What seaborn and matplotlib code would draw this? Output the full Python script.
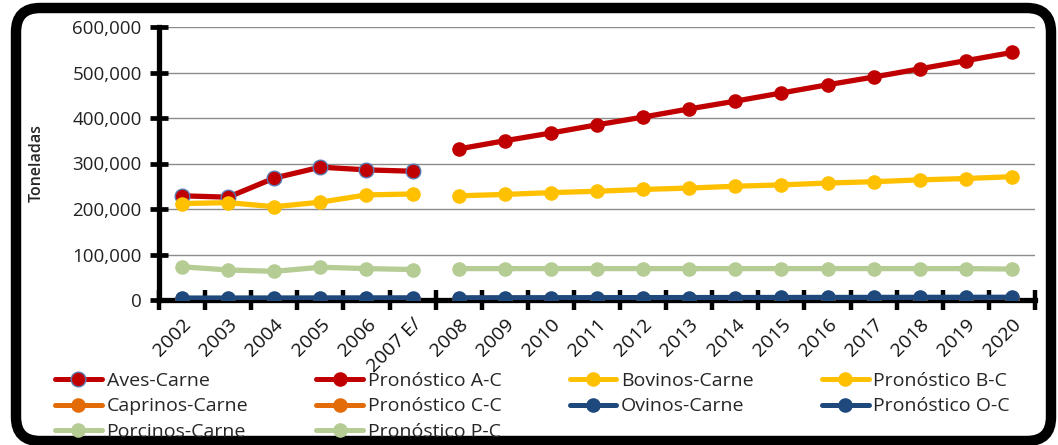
"""Producción de carne por especie: histórico 2002-2007 y pronóstico 2008-2020."""

import matplotlib
matplotlib.use("Agg")
import matplotlib.pyplot as plt
import matplotlib.ticker as mticker
from matplotlib.patches import FancyBboxPatch
from matplotlib.transforms import IdentityTransform
from matplotlib.lines import Line2D
import numpy as np
import seaborn as sns

# ── Datos ───────────────────────────────────────────────────────────────────
ANIOS = ["2002", "2003", "2004", "2005", "2006", "2007 E/", "2008", "2009",
         "2010", "2011", "2012", "2013", "2014", "2015", "2016", "2017",
         "2018", "2019", "2020"]
N_HIST = 6  # 2002 .. 2007 E/ son históricos, el resto pronóstico

aves_carne = [229000, 226000, 268000, 292000, 286000, 283000]
pron_ac = [332000, 350000, 367000, 385000, 402000, 420000, 437000,
           455000, 473000, 490000, 508000, 526000, 544000]
bovinos_carne = [212000, 214000, 205000, 215000, 231000, 233000]
pron_bc = [229000, 232000, 236000, 239000, 243000, 246000, 250000,
           253000, 257000, 260000, 264000, 267000, 271000]
caprinos_carne = [1600, 1500, 1500, 1400, 1400, 1400]
pron_cc = [1400, 1400, 1400, 1400, 1400, 1400, 1400,
           1400, 1400, 1400, 1400, 1400, 1400]
ovinos_carne = [4200, 4300, 4400, 4500, 4600, 4700]
pron_oc = [4800, 4900, 5000, 5100, 5200, 5300, 5400,
           5500, 5600, 5700, 5800, 5900, 6000]
porcinos_carne = [73000, 66000, 63000, 72000, 69000, 67000]
pron_pc = [69000, 69000, 69000, 69000, 69000, 69000, 69000,
           69000, 69000, 69000, 69000, 69000, 68000]

# ── Estilo ──────────────────────────────────────────────────────────────────
C_ROJO = "#C00000"
C_AMARILLO = "#FFC000"
C_NARANJA = "#E36C09"
C_AZUL = "#1F497D"
C_VERDE = "#B5CC94"

sns.set_theme(style="white")
plt.rcParams["font.family"] = ["Open Sans", "DejaVu Sans"]

SERIES = [
    # (etiqueta, valores, color, borde, histórico?)
    ("Aves-Carne", aves_carne, C_ROJO, "#5A78B0", True),
    ("Pronóstico A-C", pron_ac, C_ROJO, C_ROJO, False),
    ("Bovinos-Carne", bovinos_carne, C_AMARILLO, C_AMARILLO, True),
    ("Pronóstico B-C", pron_bc, C_AMARILLO, C_AMARILLO, False),
    ("Caprinos-Carne", caprinos_carne, C_NARANJA, C_NARANJA, True),
    ("Pronóstico C-C", pron_cc, C_NARANJA, C_NARANJA, False),
    ("Ovinos-Carne", ovinos_carne, C_AZUL, C_AZUL, True),
    ("Pronóstico O-C", pron_oc, C_AZUL, C_AZUL, False),
    ("Porcinos-Carne", porcinos_carne, C_VERDE, C_VERDE, True),
    ("Pronóstico P-C", pron_pc, C_VERDE, C_VERDE, False),
]

W, H = 1058, 445
fig = plt.figure(figsize=(W / 100, H / 100), dpi=100)
fig.patch.set_facecolor("white")

# marco redondeado exterior (coordenadas en píxeles)
marco = FancyBboxPatch((16, 4), 1035, 433,
                       boxstyle="round,pad=0,rounding_size=24",
                       transform=IdentityTransform(),
                       facecolor="none", edgecolor="black", linewidth=7.5,
                       zorder=-1)
fig.patches.append(marco)

ax = fig.add_axes([159 / W, (H - 300) / H, (1035 - 159) / W, 273 / H])
ax.set_facecolor("none")

x_hist = np.arange(N_HIST)
x_pron = np.arange(N_HIST, len(ANIOS))

handles = {}
for etiqueta, valores, color, borde, hist in SERIES:
    xs = x_hist if hist else x_pron
    ancho_borde = 1.0 if borde != color else 0
    sns.lineplot(x=xs, y=valores, ax=ax, color=color, linewidth=3.8,
                 marker="o", markersize=10.5, markerfacecolor=color,
                 markeredgecolor=borde, markeredgewidth=ancho_borde,
                 zorder=3)
    handles[etiqueta] = Line2D([], [], color=color, linewidth=3.6, marker="o",
                               markersize=10.5, markerfacecolor=color,
                               markeredgecolor=borde,
                               markeredgewidth=ancho_borde)

# ── Ejes ────────────────────────────────────────────────────────────────────
ax.set_xlim(-0.5, len(ANIOS) - 0.5)
ax.set_ylim(0, 600000)
ax.yaxis.set_major_locator(mticker.MultipleLocator(100000))
ax.yaxis.set_major_formatter(mticker.FuncFormatter(lambda v, _: f"{v:,.0f}"))
ax.grid(axis="y", color="#8C8C8C", linewidth=1.0)
ax.set_axisbelow(True)

ax.set_xticks(np.arange(len(ANIOS)))
ax.set_xticklabels(ANIOS, rotation=45, ha="right", rotation_mode="anchor",
                   fontsize=14, color="#111111")
ax.set_xticks(np.arange(len(ANIOS) + 1) - 0.5, minor=True)
ax.tick_params(axis="x", which="major", bottom=True, length=0, pad=11)
ax.tick_params(axis="x", which="minor", bottom=True, direction="inout",
               length=14, width=3.2, color="black")
ax.tick_params(axis="y", left=True, direction="inout", length=13, width=3.4,
               color="black", labelsize=13.5, pad=6, labelcolor="#222222")

for spine in ["top", "right"]:
    ax.spines[spine].set_visible(False)
for spine in ["left", "bottom"]:
    ax.spines[spine].set_color("black")
    ax.spines[spine].set_linewidth(3.8)
ax.spines["bottom"].set_zorder(2)

ax.set_ylabel("Toneladas", fontsize=11.5, fontweight="semibold", labelpad=20)
ax.set_xlabel("")

# ── Leyenda (4 columnas, llenado por filas) ───────────────────────────────
orden = ["Aves-Carne", "Caprinos-Carne", "Porcinos-Carne",
         "Pronóstico A-C", "Pronóstico C-C", "Pronóstico P-C",
         "Bovinos-Carne", "Ovinos-Carne",
         "Pronóstico B-C", "Pronóstico O-C"]
fig.legend([handles[k] for k in orden], orden, ncol=4, mode="expand",
           loc="upper left", bbox_to_anchor=(55 / W, (H - 376) / H, 955 / W, 0.01),
           frameon=False, fontsize=14, handlelength=2.4, handletextpad=0.25,
           labelspacing=0.4, borderpad=0, borderaxespad=0)

fig.savefig("out.png", dpi=100)
